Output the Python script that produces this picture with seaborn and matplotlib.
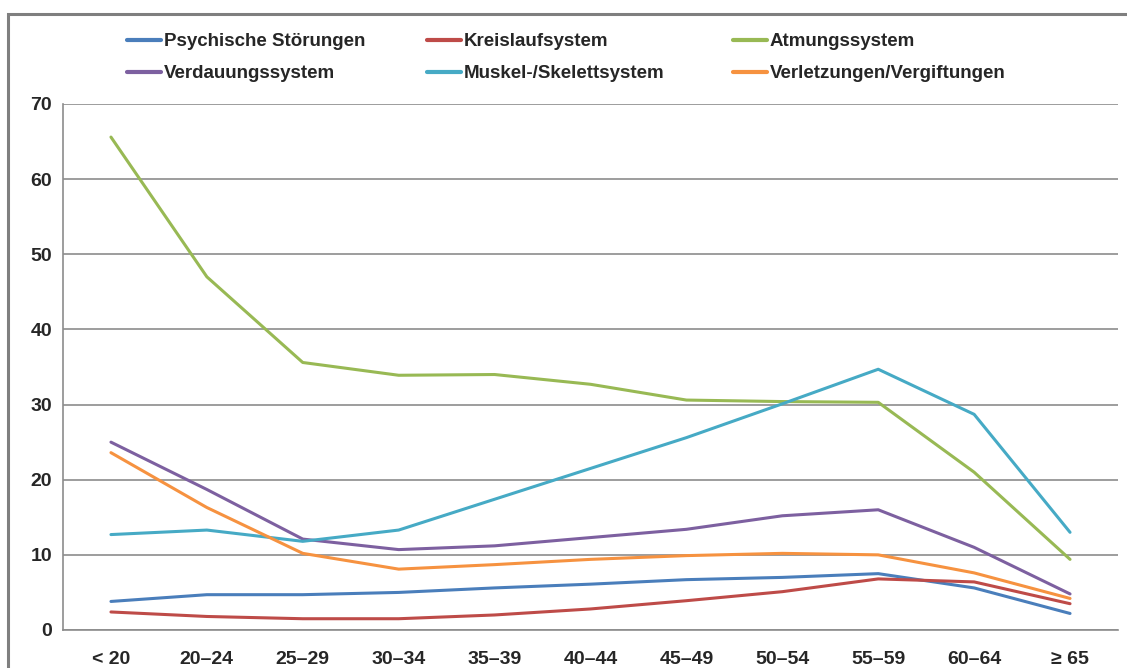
import pandas as pd
import matplotlib
matplotlib.use('Agg')
import matplotlib.pyplot as plt
import seaborn as sns
from matplotlib.patches import Rectangle

altersgruppen = ['< 20', '20–24', '25–29', '30–34', '35–39', '40–44',
                 '45–49', '50–54', '55–59', '60–64', '≥ 65']

psychische = [3.8, 4.7, 4.7, 5.0, 5.6, 6.1, 6.7, 7.0, 7.5, 5.6, 2.2]
kreislauf = [2.4, 1.8, 1.5, 1.5, 2.0, 2.8, 3.9, 5.1, 6.8, 6.4, 3.5]
atmung = [65.6, 47.0, 35.6, 33.9, 34.0, 32.7, 30.6, 30.4, 30.3, 21.0, 9.4]
verdauung = [25.0, 18.7, 12.1, 10.7, 11.2, 12.3, 13.4, 15.2, 16.0, 11.0, 4.8]
muskel = [12.7, 13.3, 11.8, 13.3, 17.4, 21.5, 25.6, 30.1, 34.7, 28.7, 13.0]
verletzung = [23.6, 16.3, 10.2, 8.1, 8.7, 9.4, 9.9, 10.2, 10.0, 7.6, 4.2]

reihen = {
    'Psychische Störungen': psychische,
    'Kreislaufsystem': kreislauf,
    'Atmungssystem': atmung,
    'Verdauungssystem': verdauung,
    'Muskel-/Skelettsystem': muskel,
    'Verletzungen/Vergiftungen': verletzung,
}
farben = {
    'Psychische Störungen': '#4A7EBB',
    'Kreislaufsystem': '#BE4B48',
    'Atmungssystem': '#98B954',
    'Verdauungssystem': '#7D60A0',
    'Muskel-/Skelettsystem': '#46AAC5',
    'Verletzungen/Vergiftungen': '#F69240',
}

rows = []
for name, werte in reihen.items():
    for g, w in zip(altersgruppen, werte):
        rows.append({'Alter': g, 'Wert': w, 'Diagnose': name})
df = pd.DataFrame(rows)

sns.set_style('white')
plt.rcParams['font.family'] = ['Liberation Sans', 'DejaVu Sans']

fig = plt.figure(figsize=(11.27, 6.68), dpi=100)
ax = fig.add_axes([63 / 1127, 1 - 630 / 668, (1118 - 63) / 1127, (630 - 104) / 668])

# Rahmen um das ganze Diagramm
fig.patches.append(Rectangle((8 / 1127, -0.05), 1.2, 1 - 14 / 668 + 0.05,
                             transform=fig.transFigure, fill=False,
                             edgecolor='#7f7f7f', linewidth=2.2, zorder=0))

sns.lineplot(data=df, x='Alter', y='Wert', hue='Diagnose', palette=farben,
             sort=False, linewidth=2.2, ax=ax, legend=False)

ax.set_xlim(-0.5, len(altersgruppen) - 0.5)
ax.set_ylim(0, 70)
ax.set_yticks(range(0, 71, 10))
ax.yaxis.grid(True, color='#8c8c8c', linewidth=1.2)
ax.set_axisbelow(True)
for s in ['top', 'right']:
    ax.spines[s].set_visible(False)
for s in ['left', 'bottom']:
    ax.spines[s].set_color('#8c8c8c')
    ax.spines[s].set_linewidth(1.2)

ax.set_xticks(range(len(altersgruppen)))
ax.set_xticklabels(altersgruppen, fontsize=14, fontweight='bold')
ax.set_xticks([i - 0.5 for i in range(len(altersgruppen) + 1)], minor=True)
ax.tick_params(axis='x', which='major', length=0, pad=15)
ax.tick_params(axis='x', which='minor', length=6, color='#8c8c8c', width=1.2, direction='out')
ax.tick_params(axis='y', length=7, color='#8c8c8c', width=1.2, direction='out', pad=1,
               labelsize=14)
for t in ax.get_yticklabels():
    t.set_fontweight('bold')
ax.set_xlabel('')
ax.set_ylabel('')

# Legende: drei Spalten, zeilenweise wie im Original
spalten = [['Psychische Störungen', 'Verdauungssystem'],
           ['Kreislaufsystem', 'Muskel-/Skelettsystem'],
           ['Atmungssystem', 'Verletzungen/Vergiftungen']]
spalten_x = [127, 427, 733]
for namen, x0 in zip(spalten, spalten_x):
    handles = [plt.Line2D([], [], color=farben[n], linewidth=3) for n in namen]
    fig.legend(handles, namen, loc='upper left', ncol=1,
               bbox_to_anchor=(x0 / 1127, 1 - 33 / 668), frameon=False, borderpad=0,
               borderaxespad=0, prop={'size': 13.5, 'weight': 'bold'},
               handlelength=1.8, handletextpad=0.15, labelspacing=0.79)

fig.savefig('out.png', dpi=100)
